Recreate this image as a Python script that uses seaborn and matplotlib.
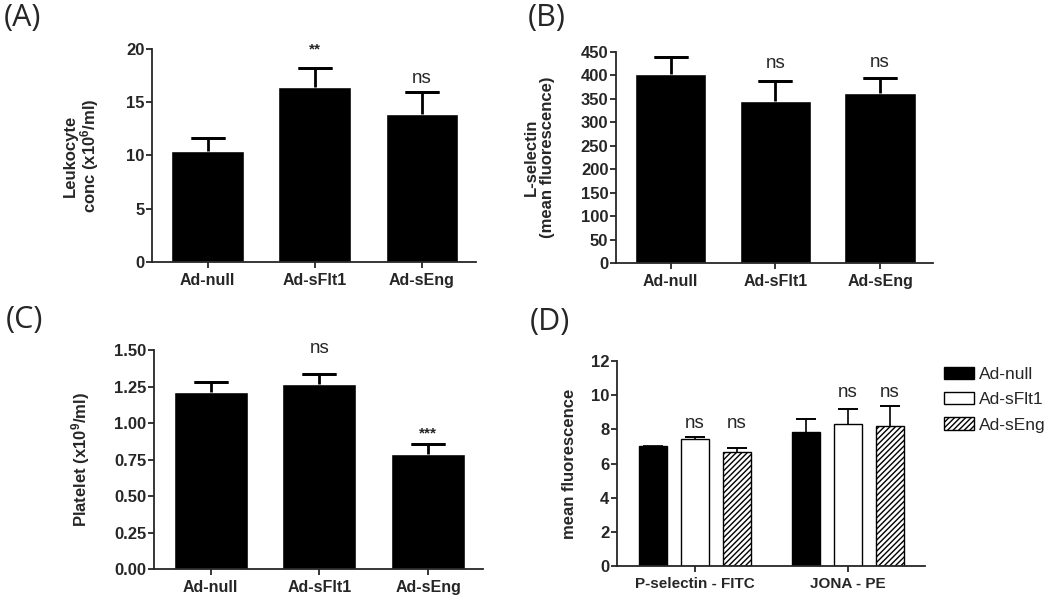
import numpy as np
import pandas as pd
import matplotlib
matplotlib.use("Agg")
import matplotlib.pyplot as plt
import seaborn as sns

# data
groups = ["Ad-null", "Ad-sFlt1", "Ad-sEng"]

leuk_mean = [10.4, 16.4, 13.9]
leuk_err = [1.28, 1.78, 2.1]
leuk_sig = ["", "**", "ns"]

lsel_mean = [403, 346, 362]
lsel_err = [36, 43, 32]
lsel_sig = ["", "ns", "ns"]

plat_mean = [1.21, 1.265, 0.787]
plat_err = [0.072, 0.069, 0.07]
plat_sig = ["", "ns", "***"]

markers = ["P-selectin - FITC", "JONA - PE"]
act_mean = {"Ad-null": [7.03, 7.83], "Ad-sFlt1": [7.45, 8.31], "Ad-sEng": [6.69, 8.2]}
act_err = {"Ad-null": [0.0, 0.8], "Ad-sFlt1": [0.12, 0.88], "Ad-sEng": [0.2, 1.17]}
act_sig = {"Ad-null": ["", ""], "Ad-sFlt1": ["ns", "ns"], "Ad-sEng": ["ns", "ns"]}

sns.set_style("ticks")
plt.rcParams["font.family"] = ["Liberation Sans", "DejaVu Sans"]
plt.rcParams["mathtext.fontset"] = "custom"
plt.rcParams["mathtext.rm"] = "Liberation Sans:bold"
plt.rcParams["mathtext.bf"] = "Liberation Sans:bold"
plt.rcParams["mathtext.default"] = "bf"
plt.rcParams["hatch.linewidth"] = 1.0

fig = plt.figure(figsize=(10.5, 6.04), dpi=100)


def upper_errorbar(ax, xs, means, errs, lw, cap):
    # one-sided (upper) error bars, no cap drawn at the bar top
    eb = ax.errorbar(xs, means, yerr=[np.zeros(len(errs)), errs], fmt="none",
                     ecolor="black", elinewidth=lw, capsize=cap, capthick=lw)
    for cl in eb[1]:
        if np.allclose(cl.get_ydata(), means):
            cl.set_visible(False)
    tops = np.array(means) + np.array(errs)
    nonzero = np.array(errs) > 0
    ax.plot(np.array(xs)[nonzero], tops[nonzero], ls="none", marker="_",
            ms=2 * cap, mew=lw, color="black")


def style_axis(ax, ylim, yticks, fmt=None, xsize=11.5):
    sns.despine(ax=ax)
    ax.set_ylim(*ylim)
    ax.set_yticks(yticks)
    if fmt:
        ax.set_yticklabels([fmt.format(t) for t in yticks])
    for s in ["left", "bottom"]:
        ax.spines[s].set_linewidth(1.3)
    ax.tick_params(axis="both", width=1.3, length=4, labelsize=12, pad=1.5)
    ax.tick_params(axis="x", labelsize=xsize, pad=4)
    for lab in ax.get_xticklabels() + ax.get_yticklabels():
        lab.set_fontweight("bold")
    ax.set_xlabel("")


def simple_panel(rect, means, errs, sigs, ylim, yticks, ylabel, label_x,
                 sig_off, fmt=None):
    ax = fig.add_axes(rect)
    sns.barplot(x=groups, y=means, color="black", width=0.68, saturation=1,
                errorbar=None, ax=ax)
    xs = [p.get_x() + p.get_width() / 2 for p in ax.patches]
    upper_errorbar(ax, xs, means, errs, 2, 12)
    for x, m, e, s, o in zip(xs, means, errs, sigs, sig_off):
        if s:
            big = s == "ns"
            ax.annotate(s, (x, m + e), xytext=(0, o), textcoords="offset points",
                        ha="center", va="baseline",
                        fontsize=13.5 if big else 11,
                        fontweight="normal" if big else "bold")
    ax.set_xlim(-0.52, 2.505)
    style_axis(ax, ylim, yticks, fmt)
    ax.set_ylabel(ylabel, fontsize=12, fontweight="bold", linespacing=1.05)
    ax.yaxis.set_label_coords(label_x, 0.5)
    return ax


# (A) leukocytes
simple_panel([0.1448, 0.5662, 0.3086, 0.3527], leuk_mean, leuk_err, leuk_sig,
             (0, 20), [0, 5, 10, 15, 20],
             "Leukocyte\nconc (x10$^6$/ml)", -0.157, [0, 11, 6])

# (B) L-selectin
simple_panel([0.5867, 0.5646, 0.3019, 0.3493], lsel_mean, lsel_err, lsel_sig,
             (0, 450), list(range(0, 451, 50)),
             "L-selectin\n(mean fluorescence)", -0.193, [0, 9, 8])

# (C) platelets
simple_panel([0.1467, 0.0579, 0.3133, 0.3626], plat_mean, plat_err, plat_sig,
             (0, 1.5), [0, 0.25, 0.5, 0.75, 1.0, 1.25, 1.5],
             "Platelet (x10$^9$/ml)", -0.19, [0, 15, 4.5], fmt="{:.2f}")

# (D) platelet activation markers
rows = []
for g in groups:
    for mk, v in zip(markers, act_mean[g]):
        rows.append({"marker": mk, "group": g, "value": v})
df = pd.DataFrame(rows)

axd = fig.add_axes([0.5876, 0.0629, 0.2933, 0.3394])
sns.barplot(data=df, x="marker", y="value", hue="group", hue_order=groups,
            palette=["black", "white", "white"], width=0.82, gap=0.33,
            saturation=1, errorbar=None, legend=False, ax=axd)
for cont, g in zip(axd.containers, groups):
    for p in cont:
        p.set_edgecolor("black")
        p.set_linewidth(1.0)
        if g == "Ad-sEng":
            p.set_hatch("//////")
    xs = [p.get_x() + p.get_width() / 2 for p in cont]
    upper_errorbar(axd, xs, act_mean[g], act_err[g], 1.2, 7)
# ns labels sit at a common height per marker group
group_top = [max(act_mean[g][i] + act_err[g][i] for g in groups)
             for i in range(len(markers))]
for cont, g in zip(axd.containers, groups):
    for i, p in enumerate(cont):
        if act_sig[g][i]:
            axd.annotate(act_sig[g][i], (p.get_x() + p.get_width() / 2, group_top[i]),
                         xytext=(0, 6.5), textcoords="offset points",
                         ha="center", va="baseline", fontsize=13.5)
axd.set_xlim(-0.51, 1.503)
style_axis(axd, (0, 12), [0, 2, 4, 6, 8, 10, 12], xsize=11)
axd.set_ylabel("mean fluorescence", fontsize=12, fontweight="bold")
axd.yaxis.set_label_coords(-0.13, 0.5)
axd.legend(handles=axd.containers, labels=groups, loc="upper left",
           bbox_to_anchor=(944 / 1050, 1 - 367 / 604),
           bbox_transform=fig.transFigure, frameon=False, fontsize=12.5,
           handlelength=1.7, handleheight=0.7, handletextpad=0.3,
           labelspacing=0.58, borderpad=0, borderaxespad=0)

# panel letters
for txt, x, y in [("(A)", 4, 3), ("(B)", 528, 3), ("(C)", 6, 305), ("(D)", 530, 307)]:
    fig.text(x / 1050, 1 - y / 604, txt, fontsize=22, family="Open Sans",
             ha="left", va="top")

fig.savefig("out.png", dpi=100)
